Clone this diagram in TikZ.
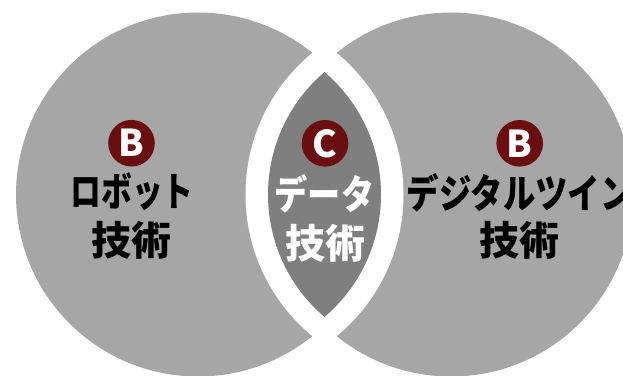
\documentclass[tikz,border=0pt]{standalone}
\usepackage{graphicx}
\usepackage{fontspec}
\newfontfamily\jp{Noto Sans CJK JP}
\definecolor{circgray}{HTML}{A6A6A6}
\definecolor{lensgray}{HTML}{7F7F7F}
\definecolor{badgered}{HTML}{6B0E10}
\tikzset{
  badge/.style={circle, fill=badgered, minimum size=46.6pt, inner sep=0pt, text=white,
    font=\jp\bfseries\fontsize{37}{37}\selectfont},
  lbl/.style={font=\jp\bfseries\fontsize{40}{48}\selectfont, inner sep=0pt, align=center},
  lblw/.style={lbl, text=white}
}
\begin{document}
\begin{tikzpicture}[x=1pt,y=-1pt]
\useasboundingbox (0,0) rectangle (623,375);
\fill[white] (0,0) rectangle (623,375);
\clip (0,0) rectangle (623,375);
\fill[circgray] (198,194.5) circle[radius=182pt];
\fill[circgray] (451,194.5) circle[radius=182pt];
\begin{scope}
  \clip (220,194.5) circle[radius=183.5pt];
  \fill[white] (429,194.5) circle[radius=183.5pt];
\end{scope}
\begin{scope}
  \clip (220,194.5) circle[radius=161pt];
  \fill[lensgray] (429,194.5) circle[radius=161pt];
\end{scope}
\node[badge] (bL) at (131.5,143.2) {B};
\node[badge] (bC) at (325,143.3) {C};
\node[badge] (bR) at (519.7,143.3) {B};
\node[lbl] (l1) at (132,192) {\scalebox{0.77}[1]{ロボット}};
\node[lbl] (l2) at (131,240) {技術};
\node[lblw] (c1) at (324.5,194) {\scalebox{0.83}[1]{データ}};
\node[lblw] (c2) at (325,243) {技術};
\node[lbl] (r1) at (519.7,193) {\scalebox{0.81}[1]{デジタルツイン}};
\node[lbl] (r2) at (519,240) {技術};
\end{tikzpicture}
\end{document}
